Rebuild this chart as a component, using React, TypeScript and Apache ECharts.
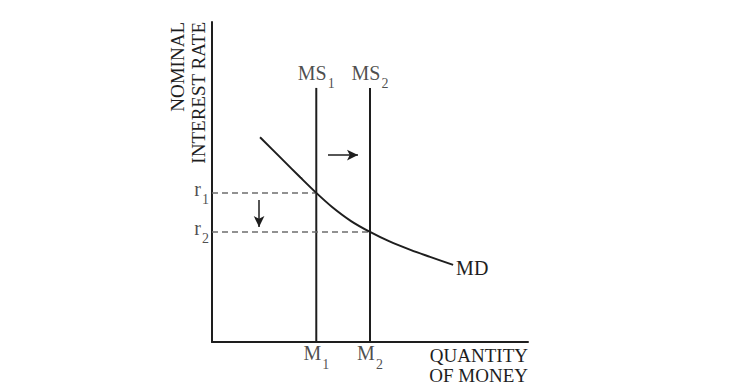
import React, { useEffect, useRef } from "react";
import * as echarts from "echarts";

// Money demand curve (quantity of money, interest rate)
const mdX = [15.2, 22.0, 28.0, 33.0, 38.0, 44.0, 50.0, 56.0, 63.0, 69.0, 76.3];
const mdY = [64.0, 57.3, 51.4, 46.6, 42.2, 37.8, 34.4, 31.5, 28.7, 26.6, 24.1];

// Money supply positions
const msX = [33.0, 50.0];
const msTop = 79.4;
const msNames = ["1", "2"];

// Interest rates
const rates = [46.6, 34.4];

// Shift arrows: [x1, y1, x2, y2]
const rightArrow = [36.7, 58.4, 46.2, 58.4];
const downArrow = [14.9, 44.4, 35.9];

const FONT = '"Liberation Serif", "DejaVu Serif", serif';
const INK = "#1e1e1e";

export default function App() {
  const ref = useRef<HTMLDivElement>(null);
  useEffect(() => {
    const chart = echarts.init(ref.current!, null, { renderer: "svg" });
    const rich = {
      a: { fontSize: 20, fontFamily: FONT, color: INK, lineHeight: 28, verticalAlign: "top" },
      s: { fontSize: 14, fontFamily: FONT, color: INK, lineHeight: 16, verticalAlign: "bottom", padding: [0, 0, 0, 1] },
    };
    const labelData: any[] = [];
    msX.forEach((x, i) => {
      labelData.push({ value: [x, msTop], label: { position: "top", distance: -3, formatter: `{a|MS}{s|${msNames[i]}}` } });
      labelData.push({ value: [x, 0], label: { position: "bottom", distance: 1, formatter: `{a|M}{s|${msNames[i]}}` } });
    });
    rates.forEach((r, i) => {
      labelData.push({ value: [0, r], label: { position: "left", distance: 3, formatter: `{a|r}{s|${msNames[i]}}` } });
    });

    const series: any[] = [];
    msX.forEach((x) => {
      series.push({
        type: "line",
        data: [[x, 0], [x, msTop]],
        symbol: "none",
        lineStyle: { color: INK, width: 2 },
        silent: true,
      });
    });
    rates.forEach((r, i) => {
      series.push({
        type: "line",
        data: [[0, r], [msX[i], r]],
        symbol: "none",
        lineStyle: { color: "#6e6e6e", width: 1.5, type: [6, 4] },
        silent: true,
      });
    });
    series.push({
      type: "line",
      data: mdX.map((x, i) => [x, mdY[i]]),
      symbol: "none",
      smooth: 0.3,
      lineStyle: { color: INK, width: 2 },
      endLabel: {
        show: true,
        formatter: "MD",
        fontSize: 20,
        fontFamily: FONT,
        color: INK,
        distance: 3,
        offset: [0, 3],
      },
      markLine: {
        silent: true,
        symbol: ["none", "arrow"],
        symbolSize: [8, 11],
        label: { show: false },
        lineStyle: { color: INK, width: 1.5, type: "solid" },
        data: [
          [{ coord: [rightArrow[0], rightArrow[1]] }, { coord: [rightArrow[2], rightArrow[3]] }],
          [{ coord: [downArrow[0], downArrow[1]] }, { coord: [downArrow[0], downArrow[2]] }],
        ],
      },
    });
    series.push({
      type: "scatter",
      data: labelData,
      symbolSize: 0,
      silent: true,
      label: { show: true, rich },
    });

    chart.setOption({
      animation: false,
      backgroundColor: "#ffffff",
      grid: { left: 212, top: 22, right: 201, bottom: 47 },
      xAxis: {
        type: "value",
        min: 0,
        max: 100,
        axisLine: { show: true, onZero: false, lineStyle: { color: INK, width: 2 } },
        axisTick: { show: false },
        axisLabel: { show: false },
        splitLine: { show: false },
        name: "QUANTITY\nOF MONEY",
        nameLocation: "end",
        nameGap: 0,
        nameTextStyle: {
          fontSize: 19,
          fontFamily: FONT,
          color: INK,
          align: "right",
          verticalAlign: "top",
          lineHeight: 20,
          padding: [3, 0, 0, 0],
        },
      },
      yAxis: {
        type: "value",
        min: 0,
        max: 100,
        axisLine: { show: true, onZero: false, lineStyle: { color: INK, width: 2 } },
        axisTick: { show: false },
        axisLabel: { show: false },
        splitLine: { show: false },
      },
      graphic: [
        {
          type: "text",
          x: 188,
          y: 22,
          rotation: Math.PI / 2,
          style: {
            text: "NOMINAL\nINTEREST RATE",
            font: `19px ${FONT}`,
            fill: INK,
            align: "right",
            verticalAlign: "middle",
            lineHeight: 21,
          },
        },
      ],
      series,
    });
    return () => chart.dispose();
  }, []);
  return (
    <div
      ref={ref}
      style={{ position: "fixed", left: 0, top: 0, width: 729, height: 389, background: "#fff" }}
    />
  );
}
